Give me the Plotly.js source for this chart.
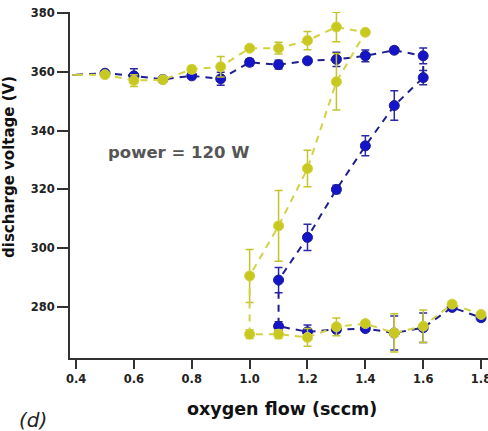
<!DOCTYPE html>
<html>
<head>
<meta charset="utf-8">
<script src="https://cdn.plot.ly/plotly-3.0.1.min.js"></script>
<style>html,body{margin:0;padding:0;background:#fff;}#chart{width:488px;height:431px;}</style>
</head>
<body>
<div id="chart"></div>
<script>
// Blue series (path order, hysteresis loop)
const blueFlow = [0.4,0.5,0.6,0.7,0.8,0.9,1.0,1.1,1.2,1.3,1.4,1.5,1.6,1.6,1.5,1.4,1.3,1.2,1.1,1.1,1.2,1.3,1.4,1.5,1.6,1.7,1.8];
const blueVoltage = [359.0,359.5,358.6,357.4,358.6,357.6,363.2,362.4,363.7,364.2,365.4,367.3,365.4,358.0,348.5,334.8,320.0,303.7,289.2,273.5,271.6,272.4,272.7,271.2,273.0,279.9,276.4];
const blueError = [0,0.6,2.4,0.8,0.8,2.2,1.2,1.5,0.6,2.4,2.0,1.0,2.7,2.4,5.0,3.4,1.4,4.5,4.3,1.5,2.3,1.0,0.8,5.8,5.0,0.8,1.0];

// Yellow series (path order, hysteresis loop)
const yellowFlow = [0.4,0.5,0.6,0.7,0.8,0.9,1.0,1.1,1.2,1.3,1.4,1.3,1.2,1.1,1.0,1.0,1.1,1.2,1.3,1.4,1.5,1.6,1.7,1.8];
const yellowVoltage = [359.0,359.0,357.0,357.3,360.8,361.7,368.0,368.0,370.6,375.2,373.4,356.6,327.1,307.6,290.6,270.8,270.8,269.7,273.3,274.4,271.2,273.5,281.0,277.5];
const yellowError = [0,0.5,2.0,0.8,1.2,3.5,0.8,2.0,3.1,5.0,0.5,9.6,6.2,12.0,9.0,1.5,1.5,3.0,3.0,0.5,6.5,5.5,0.8,0.8];

const xTicks = [0.4,0.6,0.8,1.0,1.2,1.4,1.6,1.8];
const xTickText = ['0.4','0.6','0.8','1.0','1.2','1.4','1.6','1.8'];
const yTicks = [280,300,320,340,360,380];

function sizes(n){ const s=[]; for(let i=0;i<n;i++) s.push(i===0?0:10); return s; }

const traces = [
  {
    x: blueFlow, y: blueVoltage, type: 'scatter', mode: 'lines+markers',
    line: {color: '#1e1e90', width: 2, dash: '7px,6px'},
    marker: {color: '#1414c8', size: sizes(blueFlow.length), opacity: 1},
    error_y: {type: 'data', array: blueError, visible: true, color: '#2a2aa8', thickness: 1.5, width: 4},
    cliponaxis: false, showlegend: false, hoverinfo: 'skip'
  },
  {
    x: yellowFlow, y: yellowVoltage, type: 'scatter', mode: 'lines+markers',
    line: {color: '#d2d244', width: 2, dash: '7px,6px'},
    marker: {color: '#c8c81e', size: sizes(yellowFlow.length), opacity: 1},
    error_y: {type: 'data', array: yellowError, visible: true, color: '#c4c42a', thickness: 1.5, width: 4},
    cliponaxis: false, showlegend: false, hoverinfo: 'skip'
  }
];

const axisCommon = {
  showline: true, linewidth: 2, linecolor: '#333', mirror: false,
  ticks: 'outside', tickwidth: 2, tickcolor: '#333',
  showgrid: false, zeroline: false, ticklabeloverflow: 'allow',
  tickfont: {family: 'DejaVu Sans', size: 11.5, color: '#222', weight: 'bold'}
};

const layout = {
  width: 488, height: 431,
  margin: {l: 70, r: 0, t: 12, b: 73},
  paper_bgcolor: '#fff', plot_bgcolor: '#fff',
  xaxis: Object.assign({}, axisCommon, {
    range: [0.379, 1.824], tickvals: xTicks, ticktext: xTickText, ticklen: 9
  }),
  yaxis: Object.assign({}, axisCommon, {
    range: [262.7, 380.3], tickvals: yTicks, ticklen: 11
  }),
  annotations: [
    {text: '<b>power = 120 W</b>', xref: 'paper', yref: 'paper', x: 0.086, y: 0.595,
     xanchor: 'left', yanchor: 'middle', showarrow: false,
     font: {family: 'DejaVu Sans', size: 16.5, color: '#555'}},
    {text: '<b>oxygen flow (sccm)</b>', xref: 'paper', yref: 'paper', x: 0.507, y: -0.147,
     xanchor: 'center', yanchor: 'middle', showarrow: false,
     font: {family: 'DejaVu Sans', size: 17.5, color: '#111'}},
    {text: '<b>discharge voltage (V)</b>', xref: 'paper', yref: 'paper', x: -0.146, y: 0.552,
     xanchor: 'center', yanchor: 'middle', textangle: -90, showarrow: false,
     font: {family: 'DejaVu Sans', size: 15, color: '#111'}},
    {text: '<i>(d)</i>', xref: 'paper', yref: 'paper', x: -0.126, y: -0.179,
     xanchor: 'left', yanchor: 'middle', showarrow: false,
     font: {family: 'DejaVu Sans', size: 20, color: '#222'}}
  ]
};

Plotly.newPlot('chart', traces, layout, {displayModeBar: false, staticPlot: true});
</script>
</body>
</html>
